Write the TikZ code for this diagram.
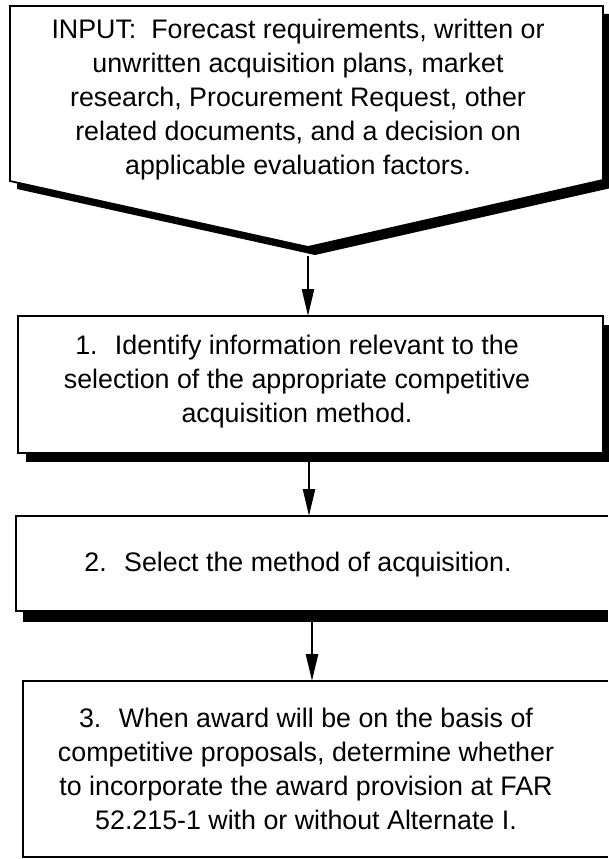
\documentclass[tikz,border=0pt]{standalone}
\usepackage{fontspec}
\setmainfont{Liberation Sans}
\usetikzlibrary{arrows.meta,shadows}
\begin{document}
\begin{tikzpicture}[x=1pt,y=-1pt,
  boxline/.style={draw=black,line width=1.8pt,fill=white},
  stepbox/.style={boxline,inner sep=0pt,outer sep=0pt,
    drop shadow={shadow xshift=8pt,shadow yshift=-9pt,fill=black,opacity=1}},
  openbox/.style={fill=white,draw=none,inner sep=0pt,outer sep=0pt},
  edge/.style={draw=black,line width=1.8pt},
  txt/.style={align=center,font=\fontsize{26.8}{34}\selectfont,inner sep=0pt},
  flow/.style={line width=2.4pt,-{Triangle[length=27pt,width=12pt]}}]
\useasboundingbox (0,0) rectangle (608,859);
\fill[white] (0,0) rectangle (608,859);
% input shape
\fill[black] (17,14) -- (611,14) -- (611,188) -- (315,255) -- (17,189) -- cycle;
\draw[boxline] (10,6) -- (603,6) -- (603,180) -- (308,247) -- (10,181) -- cycle;
\node[txt] (input) at (298,100) {INPUT:~ Forecast requirements, written or\\unwritten acquisition plans, market\\research, Procurement Request, other\\related documents, and a decision on\\applicable evaluation factors.};
\coordinate (inbot) at (308,256);
% box 1
\node[stepbox,minimum width=585pt,minimum height=137pt] (b1) at (310.5,384.5) {};
\node[txt] (t1) at (297,382) {1.~ Identify information relevant to the\\selection of the appropriate competitive\\acquisition method.};
% box 2 (runs past the right edge)
\fill[black] (23,525) rectangle (608,622);
\node[openbox,minimum width=592pt,minimum height=95pt] (b2) at (312,563.5) {};
\draw[edge] (b2.north east) -- (b2.north west) -- (b2.south west) -- (b2.south east);
\node[txt] (t2) at (298,565) {2.~ Select the method of acquisition.};
% box 3 (runs past the right edge)
\node[openbox,minimum width=585pt,minimum height=176pt] (b3) at (315.5,769) {};
\draw[edge] (b3.north east) -- (b3.north west) -- (b3.south west) -- (b3.south east);
\node[txt] (t3) at (306,769) {3.~ When award will be on the basis of\\competitive proposals, determine whether\\to incorporate the award provision at FAR\\52.215-1 with or without Alternate I.};
% connectors
\coordinate (b1out) at (309,462);
\coordinate (b2out) at (312,621);
\draw[flow] (inbot) -- (inbot |- b1.north);
\draw[flow] (b1out) -- (b1out |- b2.north);
\draw[flow] (b2out) -- (b2out |- b3.north);
\end{tikzpicture}
\end{document}
